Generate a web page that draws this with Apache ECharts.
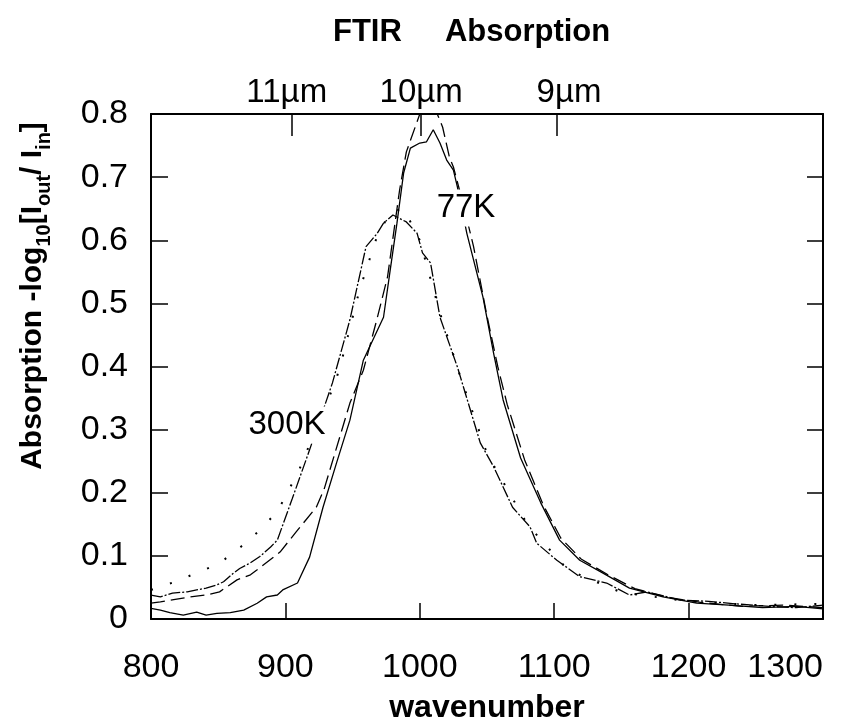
<!DOCTYPE html>
<html>
<head>
<meta charset="utf-8">
<script src="https://cdn.jsdelivr.net/npm/echarts@6/dist/echarts.min.js"></script>
<style>html,body{margin:0;padding:0;background:#fff}#c{width:868px;height:721px}</style>
</head>
<body>
<div id="c"></div>
<script>
// ---- data ----
var xTicks = [800, 900, 1000, 1100, 1200, 1300];
var yTicks = [0, 0.1, 0.2, 0.3, 0.4, 0.5, 0.6, 0.7, 0.8];
var topLabels = ['11µm', '10µm', '9µm'];
var topLabelPos = [901, 1001, 1111];
var topTickPos = [905, 1001, 1102];

// 300K, main trace
var a300x = [800, 807, 816, 827, 834, 841, 849, 854, 861, 866, 874, 881, 889, 894, 905, 918, 935, 948, 960, 968, 973, 980, 990, 998, 1002, 1008, 1015, 1028, 1045, 1055, 1069, 1082, 1087, 1102, 1119, 1139, 1156, 1169, 1194, 1215, 1235, 1260, 1280, 1300];
var a300y = [0.038, 0.035, 0.041, 0.043, 0.046, 0.049, 0.054, 0.059, 0.072, 0.080, 0.089, 0.099, 0.114, 0.125, 0.190, 0.268, 0.374, 0.474, 0.590, 0.610, 0.627, 0.640, 0.629, 0.611, 0.580, 0.564, 0.478, 0.399, 0.279, 0.241, 0.177, 0.146, 0.120, 0.093, 0.067, 0.057, 0.038, 0.043, 0.030, 0.028, 0.024, 0.020, 0.018, 0.022];
// 300K, dotted trace
var b300x = [800, 818, 834, 850, 864, 879, 894, 910, 931, 937, 942, 955, 968, 978, 988, 1000, 1015, 1030, 1050, 1080, 1110, 1150, 1200, 1250, 1300];
var b300y = [0.046, 0.059, 0.073, 0.087, 0.109, 0.137, 0.170, 0.235, 0.344, 0.374, 0.410, 0.520, 0.605, 0.645, 0.650, 0.600, 0.485, 0.385, 0.262, 0.150, 0.078, 0.042, 0.028, 0.022, 0.024];
// 77K, solid trace
var c77x = [800, 807, 814, 824, 834, 841, 849, 859, 869, 879, 886, 894, 898, 909, 918, 928, 938, 948, 958, 973, 978, 983, 988, 993, 1000, 1005, 1010, 1015, 1020, 1025, 1028, 1035, 1047, 1055, 1062, 1075, 1090, 1104, 1119, 1136, 1156, 1181, 1206, 1230, 1255, 1280, 1300];
var c77y = [0.017, 0.014, 0.010, 0.006, 0.011, 0.006, 0.009, 0.010, 0.014, 0.025, 0.035, 0.038, 0.046, 0.057, 0.098, 0.177, 0.247, 0.315, 0.410, 0.478, 0.553, 0.627, 0.707, 0.746, 0.754, 0.756, 0.775, 0.754, 0.727, 0.711, 0.684, 0.611, 0.510, 0.420, 0.347, 0.255, 0.184, 0.125, 0.093, 0.073, 0.049, 0.035, 0.025, 0.022, 0.018, 0.020, 0.016];
// 77K, long-dashed trace
var d77x = [800, 807, 818, 829, 841, 851, 864, 874, 879, 896, 908, 923, 929, 948, 958, 968, 976, 985, 990, 1000, 1007, 1014, 1017, 1022, 1025, 1032, 1040, 1050, 1058, 1065, 1078, 1092, 1105, 1120, 1140, 1160, 1185, 1210, 1240, 1270, 1300];
var d77y = [0.025, 0.027, 0.031, 0.035, 0.038, 0.043, 0.062, 0.070, 0.078, 0.106, 0.138, 0.177, 0.207, 0.342, 0.394, 0.474, 0.542, 0.680, 0.740, 0.800, 0.830, 0.795, 0.779, 0.732, 0.716, 0.660, 0.590, 0.480, 0.400, 0.340, 0.252, 0.180, 0.128, 0.095, 0.070, 0.048, 0.034, 0.026, 0.020, 0.022, 0.018];

function pairs(xs, ys) { return xs.map(function (x, i) { return [x, ys[i]]; }); }

var FONT = '"Liberation Sans", Arial, Helvetica, sans-serif';
var chart = echarts.init(document.getElementById('c'), null, { renderer: 'canvas' });

var axisLine = { show: true, onZero: false, lineStyle: { color: '#000', width: 2 } };

chart.setOption({
  animation: false,
  backgroundColor: '#fff',
  title: {
    text: 'FTIR     Absorption',
    left: 333, top: 17, padding: 0,
    textStyle: { fontFamily: FONT, fontWeight: 'bold', fontSize: 31, color: '#000' }
  },
  grid: { left: 151, right: 45, top: 114, bottom: 102, containLabel: false, outerBoundsMode: 'none' },
  xAxis: [{
    type: 'value', position: 'bottom', min: xTicks[0], max: xTicks[xTicks.length - 1], interval: 100,
    axisLine: axisLine,
    axisTick: { show: true, inside: true, length: 16, lineStyle: { color: '#000', width: 1.5 } },
    axisLabel: { margin: 32, fontFamily: FONT, fontSize: 34, color: '#000', alignMaxLabel: 'right',
                 formatter: function (v) { return String(v); } },
    splitLine: { show: false },
    name: 'wavenumber', nameLocation: 'middle', nameGap: 73,
    nameTextStyle: { fontFamily: FONT, fontWeight: 'bold', fontSize: 32, color: '#000' }
  }, {
    type: 'value', position: 'top', min: xTicks[0], max: xTicks[xTicks.length - 1],
    axisLine: axisLine,
    axisTick: { show: true, inside: true, length: 22, customValues: topTickPos, lineStyle: { color: '#000', width: 1.5 } },
    axisLabel: {
      show: true, margin: 5, customValues: topLabelPos, fontFamily: FONT, fontSize: 33, color: '#000',
      formatter: function (v) { var i = topLabelPos.indexOf(v); return i >= 0 ? topLabels[i] : ''; }
    },
    splitLine: { show: false }
  }],
  yAxis: [{
    type: 'value', position: 'left', min: yTicks[0], max: yTicks[yTicks.length - 1], interval: 0.1,
    axisLine: axisLine,
    axisTick: { show: true, inside: true, length: 17, lineStyle: { color: '#000', width: 1.5 } },
    axisLabel: { margin: 23, fontFamily: FONT, fontSize: 34, color: '#000' },
    splitLine: { show: false }
  }, {
    type: 'value', position: 'right', min: yTicks[0], max: yTicks[yTicks.length - 1], interval: 0.1,
    axisLine: axisLine,
    axisTick: { show: true, inside: true, length: 16, lineStyle: { color: '#000', width: 1.5 } },
    axisLabel: { show: false },
    splitLine: { show: false }
  }],
  series: [
    { name: '300K', type: 'line', xAxisIndex: 0, yAxisIndex: 0, showSymbol: false, clip: true,
      data: pairs(a300x, a300y), lineStyle: { color: '#000', width: 1.3, type: [12, 2, 2, 2] } },
    { name: '300K dotted', type: 'line', xAxisIndex: 0, yAxisIndex: 0, showSymbol: false, clip: true,
      data: pairs(b300x, b300y), lineStyle: { color: '#000', width: 2, type: [2, 18] } },
    { name: '77K', type: 'line', xAxisIndex: 0, yAxisIndex: 0, showSymbol: false, clip: true,
      data: pairs(c77x, c77y), lineStyle: { color: '#000', width: 1.3 } },
    { name: '77K dashed', type: 'line', xAxisIndex: 0, yAxisIndex: 0, showSymbol: false, clip: true,
      data: pairs(d77x, d77y), lineStyle: { color: '#000', width: 1.3, type: [14, 6] } }
  ],
  graphic: [
    { type: 'text', z: 100, x: 33, y: 296, rotation: Math.PI / 2,
      style: {
        text: '{b|Absorption -log}{s|10}{b|[I}{s|out}{b|/ I}{s|in}{b|]}',
        align: 'center', verticalAlign: 'middle',
        rich: {
          b: { fontFamily: FONT, fontWeight: 'bold', fontSize: 30, lineHeight: 42, verticalAlign: 'middle', fill: '#000' },
          s: { fontFamily: FONT, fontWeight: 'bold', fontSize: 20, lineHeight: 20, verticalAlign: 'bottom', fill: '#000' }
        }
      } },
    { type: 'text', z: 100, x: 287, y: 425,
      style: { text: '300K', align: 'center', verticalAlign: 'middle', fontFamily: FONT, fontSize: 33, fill: '#000',
               backgroundColor: '#fff', padding: [2, 2] } },
    { type: 'text', z: 100, x: 466, y: 208,
      style: { text: '77K', align: 'center', verticalAlign: 'middle', fontFamily: FONT, fontSize: 33, fill: '#000',
               backgroundColor: '#fff', padding: [2, 2] } }
  ]
});
</script>
</body>
</html>
